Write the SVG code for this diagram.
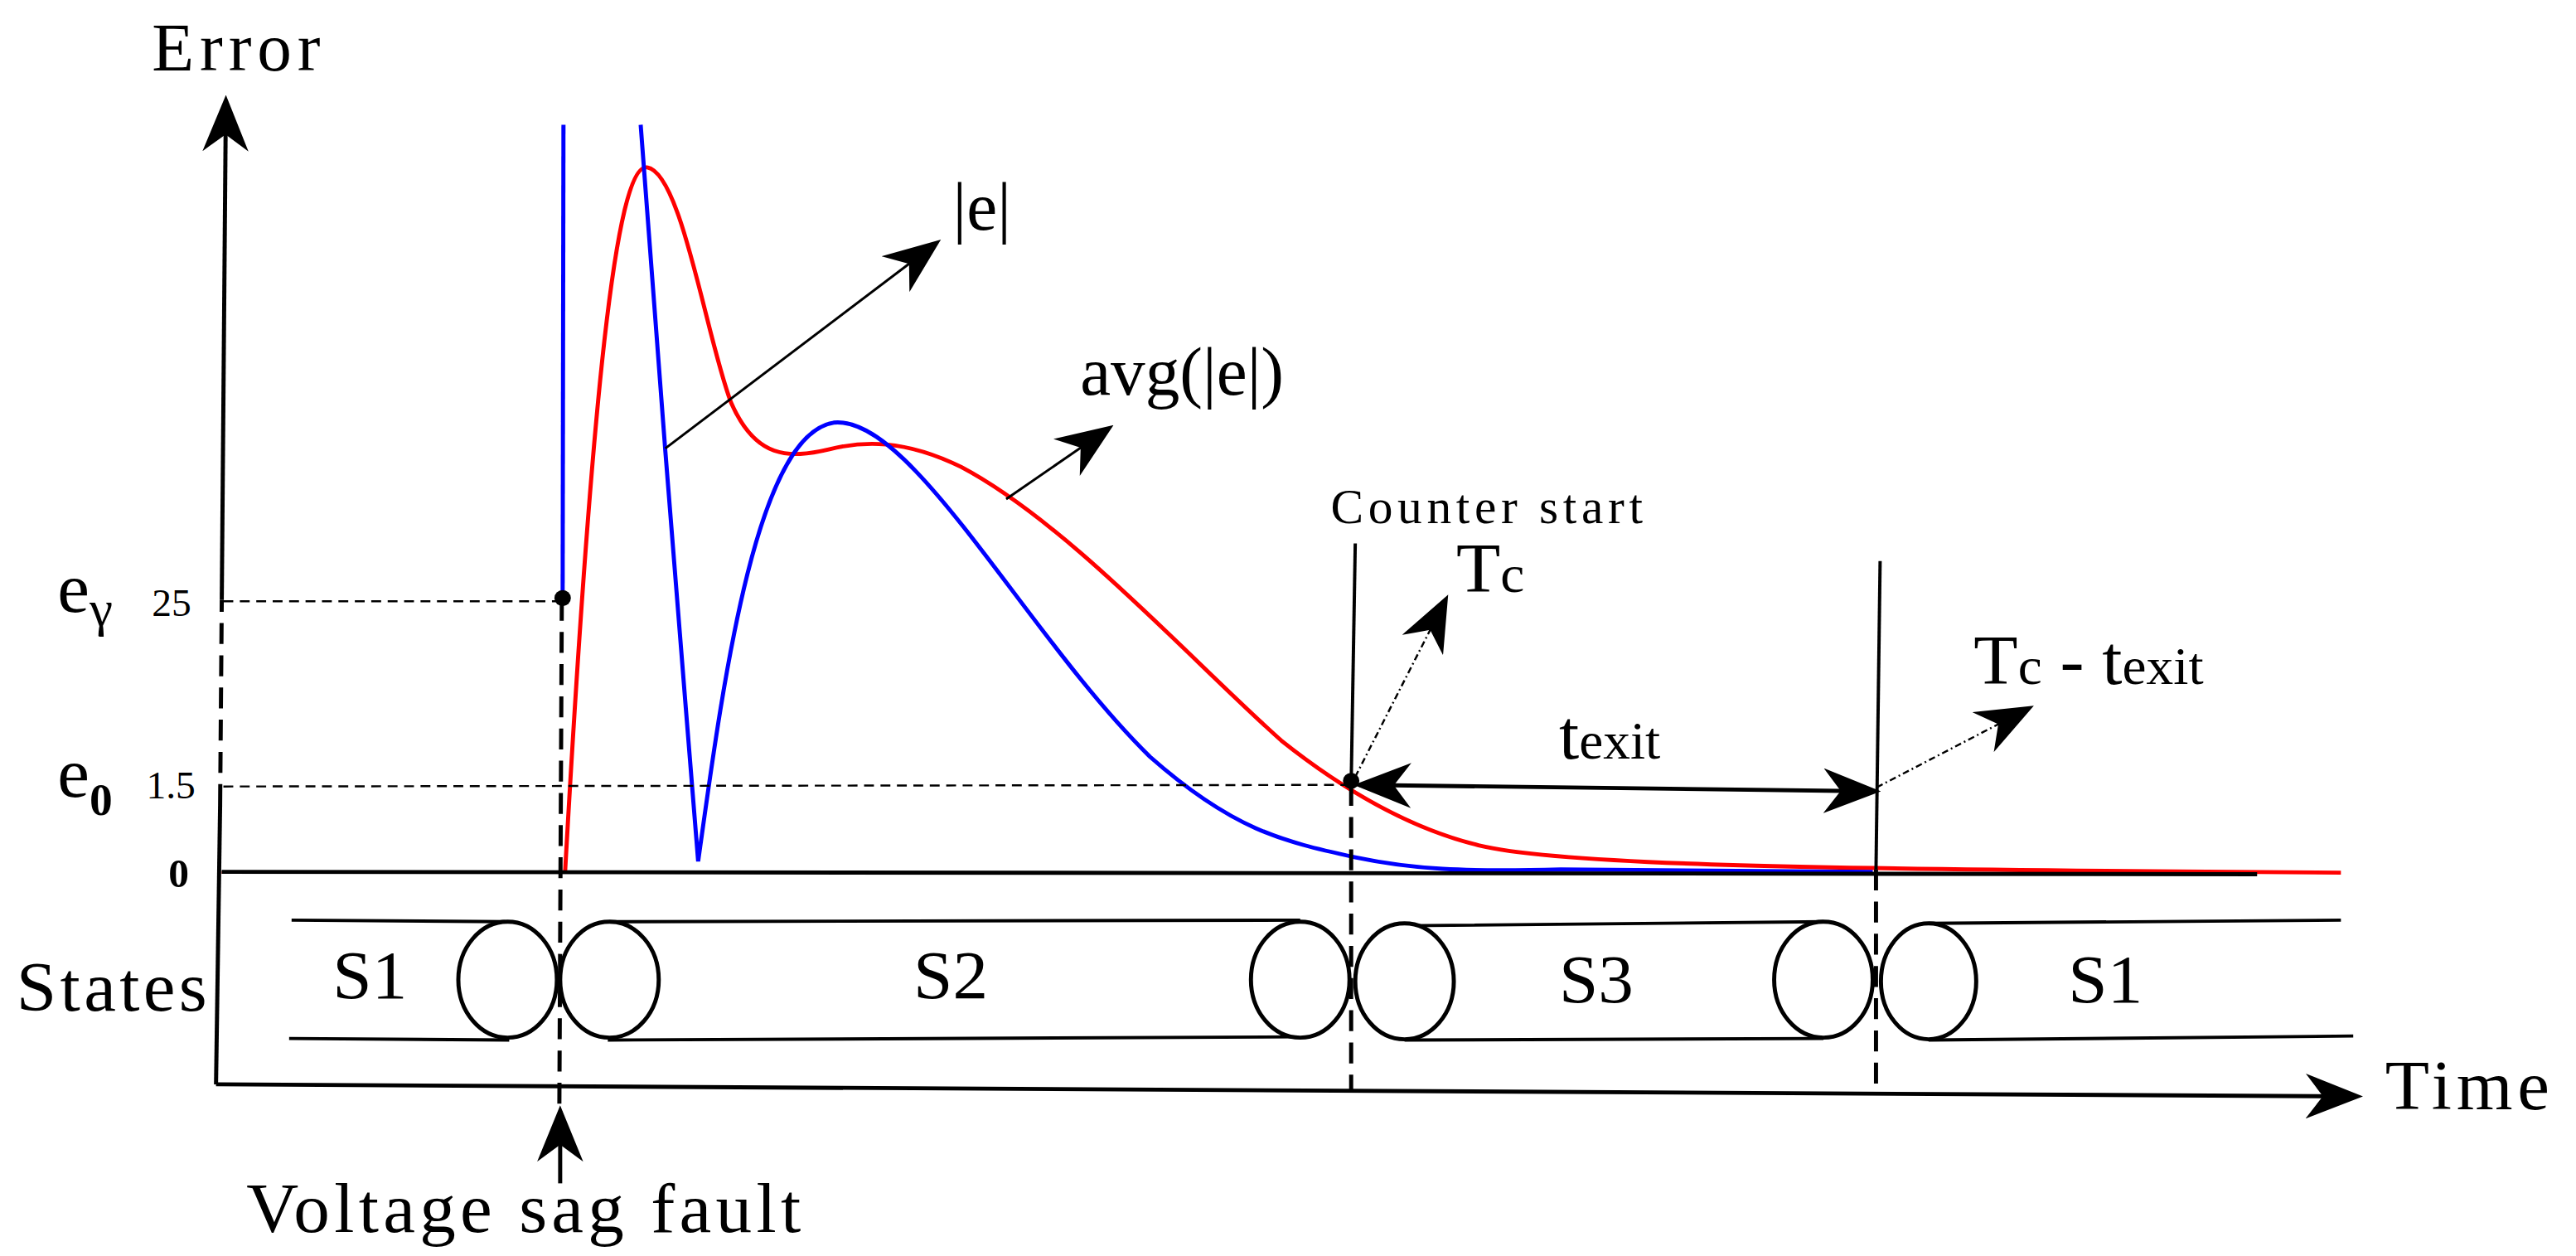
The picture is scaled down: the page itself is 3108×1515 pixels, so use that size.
<svg xmlns="http://www.w3.org/2000/svg" width="3108" height="1515" viewBox="0 0 3108 1515">
<defs>
<style>
text{font-family:"Liberation Serif","DejaVu Serif",serif;fill:#000}
.ax{stroke:#000;stroke-width:5;fill:none}
.th{stroke:#000;stroke-width:4;fill:none}
.dsh{stroke:#000;stroke-width:5;fill:none;stroke-dasharray:26 14}
.thin{stroke:#000;stroke-width:2.5;fill:none;stroke-dasharray:12 8}
.dot{stroke:#000;stroke-width:2.5;fill:none;stroke-dasharray:8 4 2 4}
.ell{stroke:#000;stroke-width:5;fill:#fff}
</style>
<marker id="ab" viewBox="0 0 20 16" refX="18" refY="8" markerWidth="70" markerHeight="56" markerUnits="userSpaceOnUse" orient="auto-start-reverse">
<path d="M0,0 L20,8 L0,16 L6,8 Z" fill="#000"/>
</marker>
</defs>
<rect width="3108" height="1515" fill="#fff"/>
<g transform="scale(0.991,0.971)">
<g id="axes">
<line class="ax" x1="263" y1="1347" x2="268" y2="1000" />
<line class="dsh" x1="268" y1="1000" x2="270" y2="745"/>
<line class="ax" x1="270" y1="745" x2="275" y2="125" marker-end="url(#ab)"/>
<line class="ax" x1="263" y1="1347" x2="2870" y2="1362" marker-end="url(#ab)"/>
<text x="185" y="88" font-size="84" textLength="205">Error</text>
<text x="2904" y="1378" font-size="88" textLength="200">Time</text>
<text x="70" y="760" font-size="88">e<tspan font-size="64" dy="18">γ</tspan></text>
<text x="185" y="765" font-size="48">25</text>
<text x="70" y="990" font-size="88">e<tspan font-size="56" dy="22" font-weight="bold">0</tspan></text>
<text x="178" y="992" font-size="48">1.5</text>
<text x="205" y="1102" font-size="50" font-weight="bold">0</text>
<text x="20" y="1255" font-size="88" textLength="232">States</text>
</g>
<g id="curves">
<line x1="270" y1="1084" x2="690" y2="1084" stroke="red" stroke-width="3"/>
<path d="M688,1083 C720,500 750,200 788,208 C830,215 860,420 890,500 C920,570 960,570 1010,558 C1050,548 1100,545 1170,580 C1300,650 1450,820 1560,920 C1640,985 1720,1030 1800,1050 C1900,1075 2200,1080 2850,1084" stroke="red" stroke-width="5" fill="none"/>
<line x1="686" y1="155" x2="685" y2="745" stroke="blue" stroke-width="5"/>
<path d="M780,155 L810,560 L835,880 L850,1070 C880,850 920,540 1015,525 C1110,515 1250,790 1400,940 C1500,1030 1560,1045 1650,1065 C1720,1080 1780,1083 1900,1080 L2280,1083" stroke="blue" stroke-width="5" fill="none"/>
<line class="ax" x1="270" y1="1083" x2="2748" y2="1086"/>
</g>
<g id="states">
<path class="th" d="M355,1143 L615,1145 M352,1290 L620,1292 M742,1145 L1583,1143 M740,1292 L1583,1288 M1710,1150 L2220,1145 M1710,1292 L2220,1290 M2348,1147 L2850,1143 M2348,1292 L2865,1287"/>
<ellipse class="ell" cx="618" cy="1217" rx="60" ry="72"/>
<ellipse class="ell" cx="742" cy="1217" rx="60" ry="72"/>
<ellipse class="ell" cx="1583" cy="1217" rx="60" ry="72"/>
<ellipse class="ell" cx="1710" cy="1219" rx="60" ry="72"/>
<ellipse class="ell" cx="2220" cy="1217" rx="60" ry="72"/>
<ellipse class="ell" cx="2348" cy="1219" rx="58" ry="72"/>
<text x="405" y="1240" font-size="86">S1</text>
<text x="1112" y="1240" font-size="86">S2</text>
<text x="1898" y="1245" font-size="86">S3</text>
<text x="2518" y="1245" font-size="86">S1</text>
</g>
<g id="markers">
<line class="thin" x1="272" y1="747" x2="685" y2="747"/>
<line class="thin" x1="272" y1="977" x2="1645" y2="975"/>
<line class="dsh" x1="684" y1="745" x2="681" y2="1375"/>
<line class="ax" x1="682" y1="1470" x2="682" y2="1380" marker-end="url(#ab)"/>
<text x="300" y="1530" font-size="88" textLength="675">Voltage sag fault</text>
<line class="th" x1="1650" y1="675" x2="1645" y2="975"/>
<line class="dsh" x1="1645" y1="975" x2="1645" y2="1355"/>
<line class="th" x1="2289" y1="697" x2="2284" y2="1080"/>
<line class="dsh" x1="2284" y1="1080" x2="2284" y2="1357"/>
<circle cx="685" cy="743" r="10"/>
<circle cx="1645" cy="970" r="10"/>
<text x="1620" y="650" font-size="60" textLength="380">Counter start</text>
<line class="ax" x1="1655" y1="975" x2="2283" y2="983" marker-start="url(#ab)" marker-end="url(#ab)"/>
<text x="1898" y="942" font-size="88">t<tspan font-size="66">exit</tspan></text>
<line class="dot" x1="1650" y1="965" x2="1760" y2="745" marker-end="url(#ab)"/>
<text x="1773" y="735" font-size="88">T<tspan font-size="66">c</tspan></text>
<line class="dot" x1="2285" y1="978" x2="2470" y2="880" marker-end="url(#ab)"/>
<text x="2403" y="850" font-size="88">T<tspan font-size="66">c</tspan> - t<tspan font-size="66">exit</tspan></text>
<line stroke="#000" stroke-width="3" x1="810" y1="557" x2="1140" y2="302" marker-end="url(#ab)"/>
<text x="1160" y="285" font-size="84">|e|</text>
<line stroke="#000" stroke-width="3" x1="1225" y1="620" x2="1350" y2="532" marker-end="url(#ab)"/>
<text x="1315" y="490" font-size="84">avg(|e|)</text>
</g>
</g>
</svg>
